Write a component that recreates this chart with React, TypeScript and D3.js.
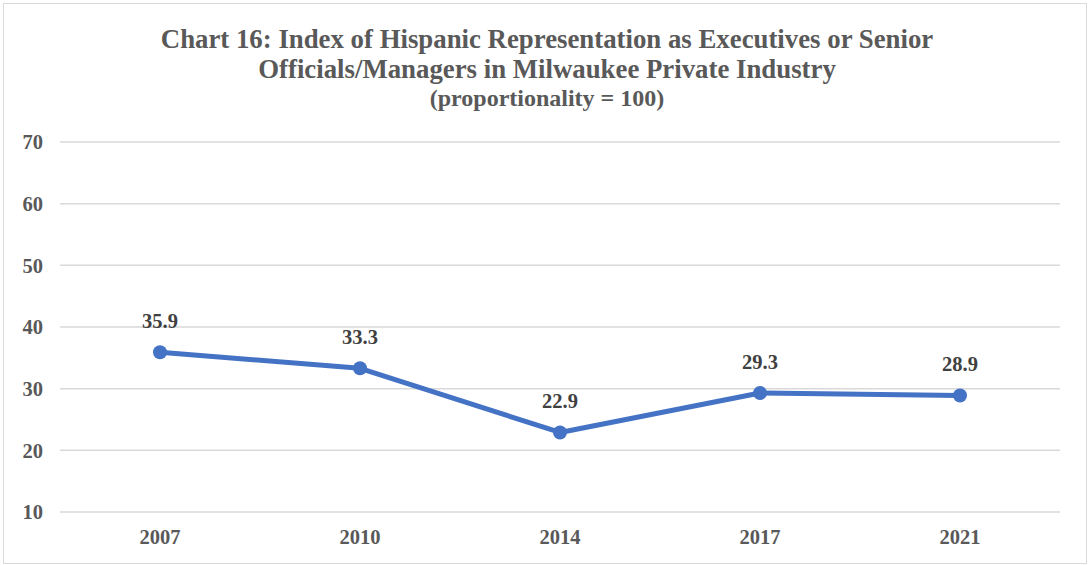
import React from "react";
import * as d3 from "d3";

const years = ["2007", "2010", "2014", "2017", "2021"];
const values = [35.9, 33.3, 22.9, 29.3, 28.9];
const yTicks = [10, 20, 30, 40, 50, 60, 70];
const titleLines = [
  "Chart 16: Index of Hispanic Representation as Executives or Senior",
  "Officials/Managers in Milwaukee Private Industry",
];
const subtitle = "(proportionality = 100)";

const W = 1089;
const H = 565;
const plot = { left: 60, right: 1060, top: 142, bottom: 512 };
const font = "'Liberation Serif', 'Times New Roman', serif";
const textColor = "#595959";
const lineColor = "#4472C4";

export default function App() {
  const x = d3.scaleBand<string>().domain(years).range([plot.left, plot.right]);
  const y = d3.scaleLinear().domain([10, 70]).range([plot.bottom, plot.top]);
  const cx = (d: string) => (x(d) as number) + x.bandwidth() / 2;
  const line = d3
    .line<number>()
    .x((_, i) => cx(years[i]))
    .y((v) => y(v));

  return (
    <svg
      width={W}
      height={H}
      style={{ position: "absolute", left: 0, top: 0, background: "#fff" }}
    >
      <rect x={3.5} y={3.5} width={1083} height={560} fill="#fff" stroke="#d9d9d9" strokeWidth={1} />
      {titleLines.map((t, i) => (
        <text
          key={i}
          x={547}
          y={48 + i * 30}
          textAnchor="middle"
          fontFamily={font}
          fontWeight="bold"
          fontSize={26.8}
          fill={textColor}
        >
          {t}
        </text>
      ))}
      <text
        x={547}
        y={106}
        textAnchor="middle"
        fontFamily={font}
        fontWeight="bold"
        fontSize={24}
        fill={textColor}
      >
        {subtitle}
      </text>
      {yTicks.map((t) => (
        <g key={t}>
          <line x1={plot.left} x2={plot.right} y1={y(t)} y2={y(t)} stroke="#d9d9d9" strokeWidth={1.5} />
          <text
            x={43}
            y={y(t)}
            dy="0.35em"
            textAnchor="end"
            fontFamily={font}
            fontWeight="bold"
            fontSize={20.5}
            fill={textColor}
          >
            {t}
          </text>
        </g>
      ))}
      {years.map((yr) => (
        <text
          key={yr}
          x={cx(yr)}
          y={544}
          textAnchor="middle"
          fontFamily={font}
          fontWeight="bold"
          fontSize={20.5}
          fill={textColor}
        >
          {yr}
        </text>
      ))}
      <path d={line(values) || ""} fill="none" stroke={lineColor} strokeWidth={5} strokeLinejoin="round" />
      {values.map((v, i) => (
        <g key={i}>
          <circle cx={cx(years[i])} cy={y(v)} r={7} fill={lineColor} />
          <text
            x={cx(years[i])}
            y={y(v) - 24}
            textAnchor="middle"
            fontFamily={font}
            fontWeight="bold"
            fontSize={20.5}
            fill="#404040"
          >
            {v.toFixed(1)}
          </text>
        </g>
      ))}
    </svg>
  );
}
